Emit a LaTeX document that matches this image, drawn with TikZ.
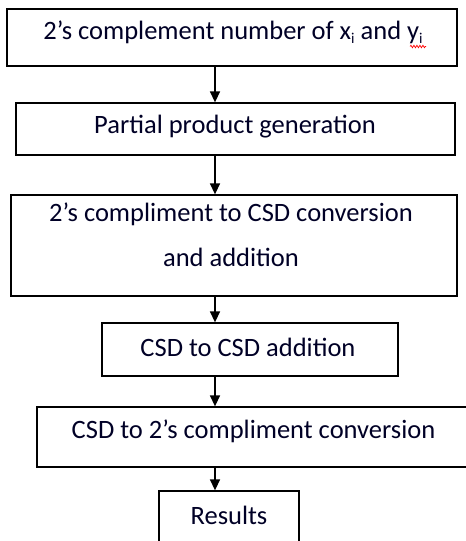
\documentclass[tikz,border=0pt]{standalone}
\usepackage{fontspec}
\setmainfont{Carlito}
\usetikzlibrary{arrows.meta,decorations.pathmorphing}
\newcommand{\smallsub}[1]{\raisebox{-0.3ex}{\fontsize{15}{15}\selectfont #1}}
\begin{document}
\begin{tikzpicture}[x=1pt,y=-1pt,
  box/.style={draw=black,line width=1.3pt,inner sep=0pt},
  txt/.style={font=\fontsize{26.5}{45}\selectfont,text=black!85!blue,inner sep=0pt,align=center},
  arr/.style={line width=1.4pt,-{Triangle[length=11pt,width=10pt]}}]
\useasboundingbox[fill=white] (0,0) rectangle (466,541);
\clip (0,0) rectangle (466,541);
\node[box,minimum width=450pt,minimum height=57pt] (b1) at (232,37.5) {};
\node[txt] (t1) at (233,32) {2’s complement number of x\smallsub{i} and y\smallsub{i}};
\node[box,minimum width=439pt,minimum height=52pt] (b2) at (235.5,129) {};
\node[txt] (t2) at (235,127) {Partial product generation};
\node[box,minimum width=446pt,minimum height=101pt] (b3) at (234,245.5) {};
\node[txt] (t3) at (231,234.5) {2’s compliment to CSD conversion\\and addition};
\node[box,minimum width=296pt,minimum height=53pt] (b4) at (250,349.5) {};
\node[txt] (t4) at (248,347) {CSD to CSD addition};
\node[box,minimum width=450pt,minimum height=60pt] (b5) at (262,437) {};
\node[txt] (t5) at (253.5,431) {CSD to 2’s compliment conversion};
\node[box,minimum width=140pt,minimum height=60pt] (b6) at (229,521) {};
\node[txt] (t6) at (229,515) {Results};
\coordinate (s1) at (215,0);
\draw[arr] (b1.south -| s1) -- (b2.north -| s1);
\draw[arr] (b2.south -| s1) -- (b3.north -| s1);
\draw[arr] (b3.south -| s1) -- (b4.north -| s1);
\draw[arr] (b4.south -| s1) -- (b5.north -| s1);
\draw[arr] (b5.south -| s1) -- (b6.north -| s1);
\coordinate (w1) at (410,46.5);
\coordinate (w2) at (426,46.5);
\draw[red,line width=0.7pt,decorate,decoration={snake,amplitude=1.2pt,segment length=3pt}] (w1) -- (w2);
\end{tikzpicture}
\end{document}
